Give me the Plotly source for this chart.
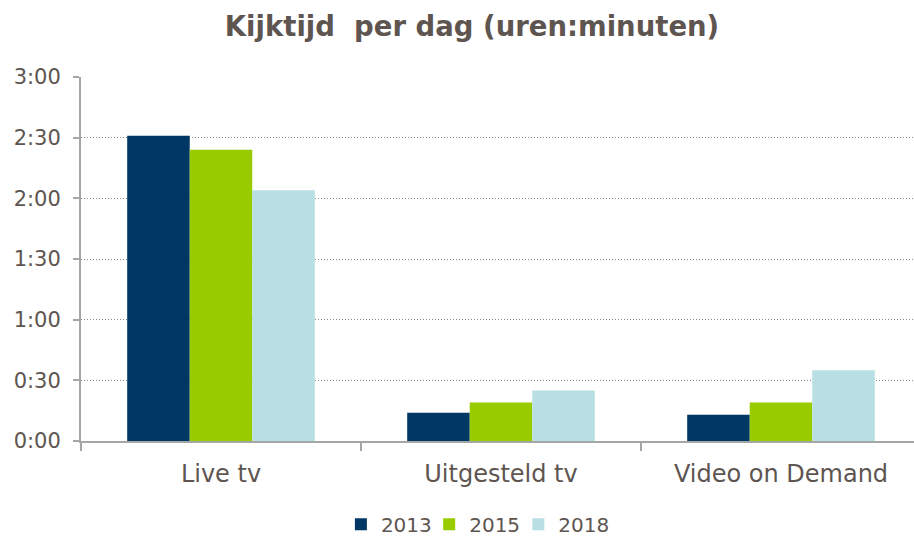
import plotly.graph_objects as go

categories = ["Live tv", "Uitgesteld tv", "Video on Demand"]
years = ["2013", "2015", "2018"]
minutes_2013 = [151, 14, 13]
minutes_2015 = [144, 19, 19]
minutes_2018 = [124, 25, 35]
tick_vals = [0, 30, 60, 90, 120, 150, 180]
tick_text = ["0:00", "0:30", "1:00", "1:30", "2:00", "2:30", "3:00"]

colors = ["#003764", "#99CC00", "#B8DFE3"]
series = [minutes_2013, minutes_2015, minutes_2018]
legend_ids = ["legend", "legend2", "legend3"]
legend_x = [0.312, 0.418, 0.525]
text_color = "#5E5551"
font_family = "DejaVu Sans, Verdana, sans-serif"

fig = go.Figure()
for name, vals, col, lid in zip(years, series, colors, legend_ids):
    fig.add_trace(go.Bar(x=categories, y=vals, name=name, legend=lid,
                         marker=dict(color=col, line=dict(width=0))))

legend_common = dict(orientation="h", xanchor="left", y=-0.229, yanchor="middle",
                     font=dict(size=20, color=text_color), itemwidth=30,
                     bgcolor="rgba(0,0,0,0)", borderwidth=0)

fig.update_layout(
    width=914, height=538,
    margin=dict(l=81, r=0, t=77, b=97, autoexpand=False),
    paper_bgcolor="white", plot_bgcolor="white",
    barmode="group", bargap=0.33, bargroupgap=0,
    font=dict(family=font_family, color=text_color, size=21),
    title=dict(text="<b>Kijktijd&nbsp; per dag (uren:minuten)</b>", x=472 / 914, xanchor="center",
               y=1 - 26 / 538, yanchor="middle", yref="container",
               font=dict(size=27.5, color=text_color, family=font_family)),
    legend=dict(x=legend_x[0], **legend_common),
    legend2=dict(x=legend_x[1], **legend_common),
    legend3=dict(x=legend_x[2], **legend_common),
    showlegend=True,
)
fig.update_xaxes(
    range=[-0.5, 2.475], showline=True, linecolor="#A6A6A6", linewidth=2,
    ticks="outside", tickson="boundaries", ticklen=8, tickcolor="#A6A6A6", tickwidth=2,
    showgrid=False, tickfont=dict(size=24, color=text_color), ticklabelstandoff=10,
    automargin=False,
)
fig.update_yaxes(
    range=[0, 180], tickvals=tick_vals, ticktext=tick_text,
    showline=True, linecolor="#A6A6A6", linewidth=2,
    ticks="outside", ticklen=6, tickcolor="#A6A6A6", tickwidth=2,
    showgrid=True, gridcolor="#8C8C8C", griddash="1px,2px", gridwidth=1,
    zeroline=False, tickfont=dict(size=21, color=text_color), ticklabelstandoff=8,
    automargin=False,
)

fig.write_html("out.html", config={"displayModeBar": False},
               post_script="document.body.style.margin='0';document.body.style.overflow='hidden';")
